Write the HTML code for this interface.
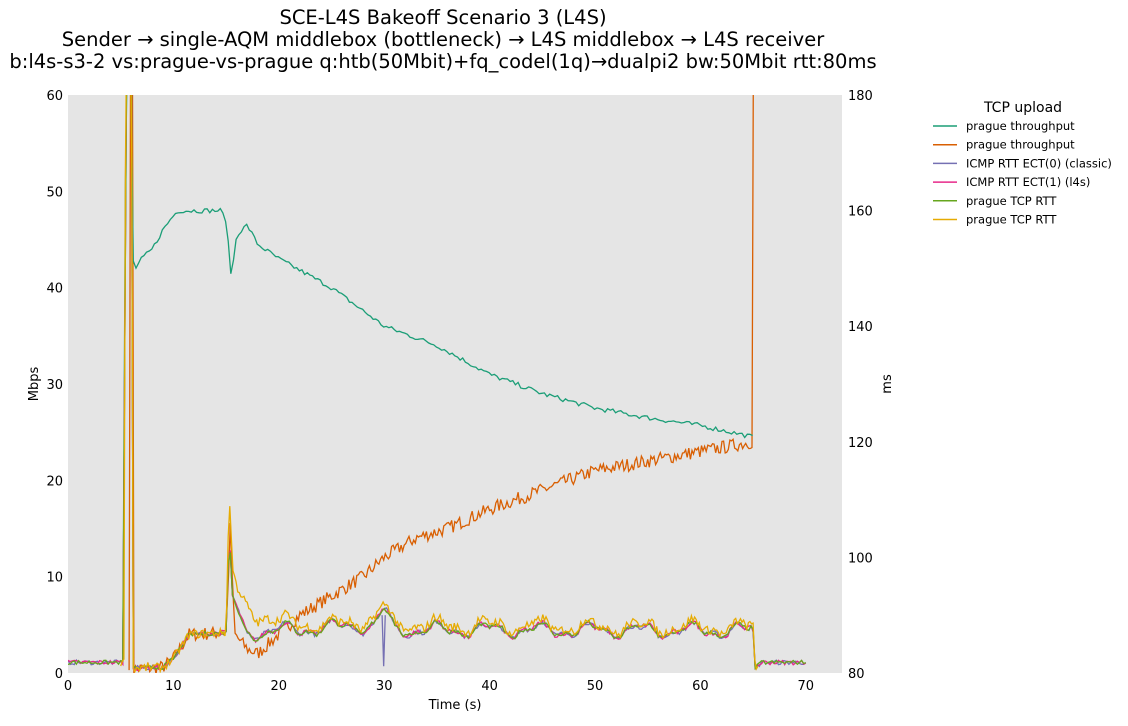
<!DOCTYPE html><html><head><meta charset="utf-8"><style>
body{margin:0;background:#fff;width:1128px;height:721px;overflow:hidden;font-family:"Liberation Sans","DejaVu Sans",sans-serif}
svg text{font-family:"DejaVu Sans","Liberation Sans",sans-serif}
</style></head><body>
<svg id="s" width="1128" height="721" xmlns="http://www.w3.org/2000/svg">
<text x="443" y="24" font-size="19.5" text-anchor="middle">SCE-L4S Bakeoff Scenario 3 (L4S)</text>
<text x="443" y="46" font-size="19.5" text-anchor="middle">Sender → single-AQM middlebox (bottleneck) → L4S middlebox → L4S receiver</text>
<text x="443" y="68" font-size="19.5" text-anchor="middle">b:l4s-s3-2 vs:prague-vs-prague q:htb(50Mbit)+fq_codel(1q)→dualpi2 bw:50Mbit rtt:80ms</text>
<rect x="68" y="95" width="774" height="578" fill="#e5e5e5"/>
<g id="g" clip-path="url(#c)"></g>
<defs><clipPath id="c"><rect x="68" y="95" width="774" height="578"/></clipPath></defs>
<g font-size="13" fill="#000" id="ax"></g>
<text x="455" y="709" font-size="13" text-anchor="middle">Time (s)</text>
<text transform="translate(38,384) rotate(-90)" font-size="13" text-anchor="middle">Mbps</text>
<text transform="translate(891,384) rotate(-90)" font-size="13" text-anchor="middle">ms</text>
<text x="1023" y="112" font-size="14" text-anchor="middle">TCP upload</text>
<g font-size="11.5" id="lg"></g>
</svg>
<script>
var NS="http://www.w3.org/2000/svg",s=document.getElementById('s');
function px(t){return 68+t*10.54}function py(v){return 673-v*9.633}
var ax=document.getElementById('ax'),h='';
for(var t=0;t<=70;t+=10){h+='<text x="'+px(t)+'" y="690" text-anchor="middle">'+t+'</text>';}
for(var v=0;v<=60;v+=10){h+='<text x="63" y="'+(py(v)+5)+'" text-anchor="end">'+v+'</text>';}
for(var m=80;m<=180;m+=20){h+='<text x="848" y="'+(py((m-80)*0.6)+5)+'">'+m+'</text>';}
ax.innerHTML=h;
var seed=7;function r(){seed=(seed*16807)%2147483647;return seed/2147483647-0.5}
function interp(k,t){for(var i=0;i<k.length-1;i++){if(t>=k[i][0]&&t<=k[i+1][0]){var a=k[i],b=k[i+1];return a[1]+(b[1]-a[1])*(t-a[0])/(b[0]-a[0]||1)}}return k[k.length-1][1]}
function series(k,t0,t1,dt,n,wave){var p=[];for(var t=t0;t<=t1+1e-9;t+=dt){var v=interp(k,t)+r()*n+(wave?wave(t):0);p.push(px(t).toFixed(1)+','+py(v).toFixed(1))}return p}
function draw(p,c,w){var e=document.createElementNS(NS,'polyline');e.setAttribute('points',p.join(' '));e.setAttribute('fill','none');e.setAttribute('stroke',c);e.setAttribute('stroke-width',w||1.3);document.getElementById('g').appendChild(e)}
var wv=function(t){return t>17&&t<65?0.6*Math.sin(t*1.3)+0.3*Math.sin(t*3.1):0};
var rttK=[[0,1.1],[5.3,1.1],[5.5,70],[6.0,70],[6.2,0.5],[9,0.6],[10,1.5],[11.5,4],[15,4.2],[15.3,15],[15.6,8],[17,4.2],[23,4.6],[29,5],[30,6.5],[31,4.5],[65,4.4],[65.2,0.5],[65.8,1.1],[70,1.1]];
var yK=[[0,1.1],[5.3,1.1],[5.5,70],[6.0,70],[6.2,0.5],[9,0.6],[10,1.5],[11.5,4],[15,4.2],[15.3,19],[15.6,11],[16,9],[17,7],[18,6],[20,5.3],[25,5],[29,5.5],[30,7],[31,5],[65,4.7],[65.2,0.5],[65.8,1.1],[70,1.1]];
var gT=[[5.2,2],[5.55,70],[5.9,70],[6.1,43],[6.4,42],[7,43],[8,44],[9,46],[10,47.5],[10.5,48],[14.5,48],[15,47],[15.5,41],[16,45.5],[17,46.5],[18,44.5],[20,43],[25,40],[30,36],[35,34],[40,31],[45,29],[50,27.5],[55,26.5],[60,25.7],[65,24.5],[65.1,24.5]];
var oT=[[5.8,1],[5.9,70],[6.1,70],[6.25,0.4],[9,0.6],[10,1.5],[11.5,4],[15,4.2],[15.4,15],[15.8,4],[17,2.5],[18,2],[20,4],[22,6],[25,8],[28,10],[30,12],[33,14],[36,15],[40,17],[45,19],[50,21],[55,22],[60,23],[65,24],[65.05,70]];
draw(series(oT,5.8,65.05,0.15,1.4),'#d95f02');
draw(series(gT,5.2,65.1,0.25,0.5),'#1b9e77');
draw(series(rttK,0,70,0.2,0.5,wv),'#7570b3');
draw(series(rttK,0,70,0.2,0.5,wv),'#e7298a');
draw(series(rttK,0,70,0.2,0.45,wv),'#66a61e');
draw(series(yK,5,65.5,0.15,0.9,wv),'#e6ab02');
draw([px(29.8)+','+py(6),px(29.95)+','+py(0.7),px(30.1)+','+py(6)],'#7570b3');
var L=[['prague throughput','#1b9e77'],['prague throughput','#d95f02'],['ICMP RTT ECT(0) (classic)','#7570b3'],['ICMP RTT ECT(1) (l4s)','#e7298a'],['prague TCP RTT','#66a61e'],['prague TCP RTT','#e6ab02']],lh='';
L.forEach(function(l,i){var y=126+i*18.7;lh+='<line x1="933" x2="957" y1="'+y+'" y2="'+y+'" stroke="'+l[1]+'" stroke-width="1.5"/><text x="966" y="'+(y+4)+'">'+l[0]+'</text>'});
document.getElementById('lg').innerHTML=lh;
</script></body></html>
